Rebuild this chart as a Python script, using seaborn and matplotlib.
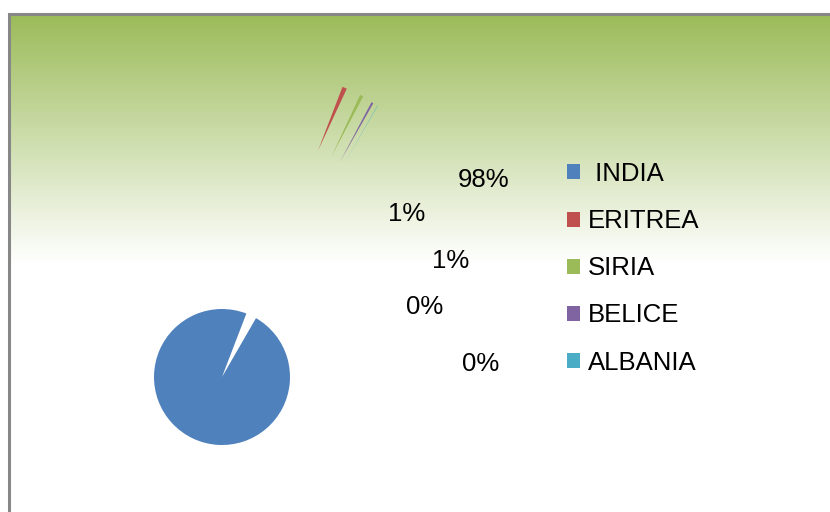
import numpy as np
import matplotlib
matplotlib.use("Agg")
import matplotlib.pyplot as plt
from matplotlib.patches import Rectangle
import seaborn as sns

# data
countries = [" INDIA", "ERITREA", "SIRIA", "BELICE", "ALBANIA"]
shares = [97.5, 1.1, 0.8, 0.5, 0.1]
pct_labels = ["98%", "1%", "1%", "0%", "0%"]
colors = ["#4F81BD", "#C0504D", "#9BBB59", "#8064A2", "#4BACC6"]

# layout (pixels from top-left of the 830x512 image)
W, H = 830, 512
pie_center_px = (222, 377)
pie_radius_px = 68
explode_frac = [0, 3.62, 3.62, 3.6, 3.6]
label_pos_px = [(484, 180), (407, 214), (451, 261), (425, 307), (481, 364)]

sns.set_theme(style="white")
plt.rcParams["font.family"] = ["Liberation Sans", "DejaVu Sans"]
palette = sns.color_palette(colors)

fig = plt.figure(figsize=(W / 100, H / 100), dpi=100)
ax = fig.add_axes([0, 0, 1, 1])

# green -> white gradient background of the chart area
top_rgb = np.array([155, 187, 89]) / 255
t = np.linspace(0, 1, 256)[:, None]
grad = top_rgb[None, :] * (1 - t) + np.ones(3)[None, :] * t
ax.imshow(grad[:, None, :], extent=(9, W, H - 263, H - 14), aspect="auto",
          interpolation="bilinear", zorder=0)

# chart border
ax.add_patch(Rectangle((9, -20), W + 20, H - 14 + 20, fill=False,
                       edgecolor="#878787", linewidth=2.2, zorder=1))

# pie explode is in data units, so scale by the radius
explode = [f * pie_radius_px for f in explode_frac]
cx, cy = pie_center_px[0], H - pie_center_px[1]
wedges, _ = ax.pie(shares, colors=palette, explode=explode, startangle=60,
                   counterclock=False, center=(cx, cy), radius=pie_radius_px,
                   wedgeprops=dict(linewidth=0), normalize=True)
for w in wedges:
    w.set_zorder(2)

for txt, (px, py) in zip(pct_labels, label_pos_px):
    ax.text(px, H - py, txt, ha="center", va="center", fontsize=18.5,
            color="black", zorder=3)

leg = ax.legend(wedges, countries, loc="upper left",
                bbox_to_anchor=(567 / W, 1 - 162 / H), frameon=False,
                fontsize=18.5, handlelength=0.52, handleheight=0.52,
                handletextpad=0.28, labelspacing=0.9, borderpad=0,
                borderaxespad=0, labelcolor="black")

ax.set_xlim(0, W)
ax.set_ylim(0, H)
ax.set_aspect("equal")
ax.axis("off")

fig.savefig("out.png", dpi=100, facecolor="white")
